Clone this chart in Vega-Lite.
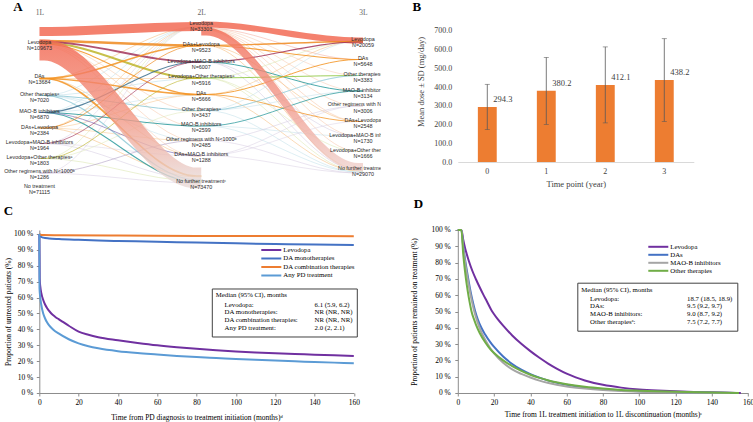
{
"$schema":"https://vega.github.io/schema/vega-lite/v6.json",
"background":"white",
"padding":{"left":-2.7,"top":0,"right":0,"bottom":0},
"autosize":{"type":"pad"},
"bounds":"flush",
"align":"each",
"columns":2,
"spacing":{"row":29,"column":76.5},
"config":{
  "view":{"stroke":null},
  "font":"Liberation Serif",
  "axis":{"labelFont":"Liberation Serif","titleFont":"Liberation Serif","titleFontWeight":"normal","labelColor":"#000","titleColor":"#000","grid":false},
  "axisY":{"labelOverlap":false},
  "title":{"font":"Liberation Serif","fontSize":13,"fontWeight":"bold","anchor":"start","frame":"group","color":"#000"},
  "legend":{"labelFont":"Liberation Serif","titleFont":"Liberation Serif","titleFontWeight":"normal"}
},
"resolve":{"scale":{"color":"independent","shape":"independent","strokeWidth":"independent"},"legend":{"color":"independent","shape":"independent","strokeWidth":"independent"}},
"datasets":{
"links":[
{"id":"a01","s":"a","y0":4.2,"y1":11.0,"n":500,"c":"f_peach"},
{"id":"a02","s":"a","y0":4.3,"y1":12.55,"n":500,"c":"f_peach"},
{"id":"a03","s":"a","y0":4.4,"y1":14.0,"n":500,"c":"f_peach"},
{"id":"a04","s":"a","y0":4.5,"y1":15.5,"n":400,"c":"f_peach"},
{"id":"a05","s":"a","y0":7.75,"y1":2.6,"n":800,"c":"f_orange"},
{"id":"a06","s":"a","y0":7.75,"y1":15.5,"n":500,"c":"f_orange"},
{"id":"a07","s":"a","y0":7.75,"y1":7.75,"n":400,"c":"f_orange"},
{"id":"a08","s":"a","y0":9.45,"y1":2.6,"n":600,"c":"f_blue"},
{"id":"a09","s":"a","y0":9.45,"y1":7.75,"n":800,"c":"f_blue"},
{"id":"a10","s":"a","y0":9.45,"y1":12.55,"n":400,"c":"f_blue"},
{"id":"a11","s":"a","y0":9.45,"y1":14.0,"n":400,"c":"f_blue"},
{"id":"a12","s":"a","y0":11.15,"y1":2.6,"n":500,"c":"f_blue"},
{"id":"a13","s":"a","y0":11.15,"y1":9.4,"n":400,"c":"f_blue"},
{"id":"a14","s":"a","y0":12.7,"y1":2.6,"n":500,"c":"f_orange"},
{"id":"a15","s":"a","y0":12.7,"y1":9.4,"n":400,"c":"f_orange"},
{"id":"a16","s":"a","y0":12.7,"y1":17.6,"n":800,"c":"f_orange"},
{"id":"a17","s":"a","y0":14.25,"y1":2.6,"n":400,"c":"f_lav"},
{"id":"a18","s":"a","y0":14.25,"y1":17.8,"n":600,"c":"f_lav"},
{"id":"a19","s":"a","y0":15.75,"y1":2.6,"n":400,"c":"f_green"},
{"id":"a20","s":"a","y0":15.75,"y1":18.0,"n":600,"c":"f_green"},
{"id":"a21","s":"a","y0":17.2,"y1":18.2,"n":500,"c":"f_lav"},
{"id":"a22","s":"a","y0":17.2,"y1":2.6,"n":300,"c":"f_lav"},
{"id":"a23","s":"a","y0":14.25,"y1":15.5,"n":300,"c":"f_lav"},
{"id":"a24","s":"a","y0":15.75,"y1":11.0,"n":300,"c":"f_green"},
{"id":"a25","s":"a","y0":12.7,"y1":14.0,"n":300,"c":"f_orange"},
{"id":"a31","s":"a","y0":3.05,"y1":2.55,"n":25500,"c":"lev"},
{"id":"a32","s":"a","y0":4.0,"y1":4.45,"n":6000,"c":"daslev"},
{"id":"a33","s":"a","y0":4.1,"y1":6.1,"n":4500,"c":"levmaob"},
{"id":"a34","s":"a","y0":4.2,"y1":7.7,"n":5000,"c":"levoth"},
{"id":"a35","s":"a","y0":4.3,"y1":9.35,"n":1800,"c":"das"},
{"id":"a36","s":"a","y0":7.75,"y1":4.45,"n":3000,"c":"das"},
{"id":"a37","s":"a","y0":7.75,"y1":9.35,"n":3000,"c":"das"},
{"id":"a38","s":"a","y0":7.75,"y1":17.5,"n":3500,"c":"das"},
{"id":"a39","s":"a","y0":9.45,"y1":10.95,"n":1500,"c":"oth"},
{"id":"a40","s":"a","y0":9.45,"y1":17.9,"n":2000,"c":"oth"},
{"id":"a41","s":"a","y0":11.15,"y1":6.1,"n":1800,"c":"maob_dark"},
{"id":"a42","s":"a","y0":11.15,"y1":12.5,"n":1800,"c":"maob"},
{"id":"a43","s":"a","y0":11.15,"y1":18.1,"n":1800,"c":"maob"},
{"id":"a44","s":"a","y0":11.15,"y1":15.45,"n":800,"c":"dasmaob"},
{"id":"a45","s":"a","y0":12.7,"y1":4.45,"n":900,"c":"daslev"},
{"id":"a46","s":"a","y0":14.25,"y1":6.1,"n":700,"c":"levmaob"},
{"id":"a47","s":"a","y0":15.75,"y1":7.7,"n":700,"c":"levoth"},
{"id":"a48","s":"a","y0":17.2,"y1":13.95,"n":600,"c":"othreg"},
{"id":"a30","s":"a","y0":4.9,"y1":17.7,"n":61000,"c":"lev_exit"},
{"id":"b01","s":"b","y0":2.7,"y1":5.85,"n":500,"c":"f_red"},
{"id":"b02","s":"b","y0":2.7,"y1":7.45,"n":400,"c":"f_peach"},
{"id":"b03","s":"b","y0":2.75,"y1":9.0,"n":400,"c":"f_peach"},
{"id":"b04","s":"b","y0":2.8,"y1":10.5,"n":600,"c":"f_peach"},
{"id":"b05","s":"b","y0":2.8,"y1":12.05,"n":700,"c":"f_peach"},
{"id":"b06","s":"b","y0":2.85,"y1":13.55,"n":600,"c":"f_peach"},
{"id":"b07","s":"b","y0":2.9,"y1":15.05,"n":600,"c":"f_peach"},
{"id":"b08","s":"b","y0":4.45,"y1":12.05,"n":700,"c":"f_orange"},
{"id":"b09","s":"b","y0":4.45,"y1":16.8,"n":800,"c":"f_orange"},
{"id":"b10","s":"b","y0":6.1,"y1":13.55,"n":600,"c":"f_lav"},
{"id":"b11","s":"b","y0":6.1,"y1":16.9,"n":700,"c":"f_lav"},
{"id":"b12","s":"b","y0":7.7,"y1":15.05,"n":500,"c":"f_green"},
{"id":"b13","s":"b","y0":7.7,"y1":4.0,"n":700,"c":"f_green"},
{"id":"b14","s":"b","y0":7.7,"y1":17.0,"n":500,"c":"f_green"},
{"id":"b15","s":"b","y0":9.35,"y1":4.0,"n":500,"c":"f_orange"},
{"id":"b16","s":"b","y0":9.35,"y1":17.0,"n":700,"c":"f_orange"},
{"id":"b17","s":"b","y0":10.95,"y1":7.45,"n":700,"c":"f_blue"},
{"id":"b18","s":"b","y0":10.95,"y1":17.1,"n":600,"c":"f_blue"},
{"id":"b19","s":"b","y0":10.95,"y1":4.0,"n":400,"c":"f_blue"},
{"id":"b20","s":"b","y0":12.5,"y1":17.1,"n":500,"c":"f_blue"},
{"id":"b21","s":"b","y0":12.5,"y1":13.55,"n":400,"c":"f_blue"},
{"id":"b22","s":"b","y0":13.95,"y1":10.5,"n":600,"c":"f_lav"},
{"id":"b23","s":"b","y0":13.95,"y1":17.2,"n":500,"c":"f_lav"},
{"id":"b24","s":"b","y0":15.45,"y1":10.5,"n":400,"c":"f_lav"},
{"id":"b25","s":"b","y0":15.45,"y1":17.2,"n":400,"c":"f_lav"},
{"id":"b26","s":"b","y0":15.45,"y1":12.05,"n":300,"c":"f_lav"},
{"id":"b27","s":"b","y0":10.95,"y1":9.0,"n":400,"c":"f_blue"},
{"id":"b31","s":"b","y0":2.35,"y1":3.95,"n":16000,"c":"lev"},
{"id":"b32","s":"b","y0":4.45,"y1":4.05,"n":2500,"c":"daslev"},
{"id":"b33","s":"b","y0":4.45,"y1":5.85,"n":2000,"c":"das"},
{"id":"b34","s":"b","y0":6.1,"y1":4.1,"n":2000,"c":"levmaob"},
{"id":"b35","s":"b","y0":6.1,"y1":9.0,"n":1500,"c":"maob"},
{"id":"b36","s":"b","y0":7.7,"y1":7.45,"n":1500,"c":"oth_green"},
{"id":"b37","s":"b","y0":9.35,"y1":5.85,"n":1500,"c":"das"},
{"id":"b38","s":"b","y0":9.35,"y1":12.05,"n":1200,"c":"das"},
{"id":"b39","s":"b","y0":12.5,"y1":9.0,"n":1200,"c":"maob"},
{"id":"b40","s":"b","y0":10.95,"y1":7.45,"n":800,"c":"oth"},
{"id":"b30","s":"b","y0":3.05,"y1":16.6,"n":22000,"c":"lev_exit"}
],
"nodes":[
{"x":1,"pos":4.4,"name":"Levodopa","nl":"N=109673"},
{"x":1,"pos":7.8,"name":"DAs","nl":"N=13684"},
{"x":1,"pos":9.6,"name":"Other therapiesᵃ","nl":"N=7020"},
{"x":1,"pos":11.25,"name":"MAO-B inhibitors","nl":"N=6870"},
{"x":1,"pos":12.85,"name":"DAs+Levodopa","nl":"N=2384"},
{"x":1,"pos":14.35,"name":"Levodopa+MAO-B inhibitors","nl":"N=1964"},
{"x":1,"pos":15.85,"name":"Levodopa+Other therapiesᵃ","nl":"N=1803"},
{"x":1,"pos":17.3,"name":"Other regimens with N<1000ᵇ","nl":"N=1286"},
{"x":1,"pos":18.75,"name":"No treatment","nl":"N=71115"},
{"x":2,"pos":2.47,"name":"Levodopa","nl":"N=33303"},
{"x":2,"pos":4.57,"name":"DAs+Levodopa","nl":"N=9523"},
{"x":2,"pos":6.25,"name":"Levodopa+MAO-B inhibitors","nl":"N=6007"},
{"x":2,"pos":7.83,"name":"Levodopa+Other therapiesᵃ","nl":"N=5916"},
{"x":2,"pos":9.5,"name":"DAs","nl":"N=5666"},
{"x":2,"pos":11.07,"name":"Other therapiesᵃ","nl":"N=3437"},
{"x":2,"pos":12.6,"name":"MAO-B inhibitors","nl":"N=2599"},
{"x":2,"pos":14.07,"name":"Other regimens with N<1000ᵇ","nl":"N=2485"},
{"x":2,"pos":15.58,"name":"DAs+MAO-B inhibitors","nl":"N=1288"},
{"x":2,"pos":18.25,"name":"No further treatmentᶜ","nl":"N=73470"},
{"x":3,"pos":4.12,"name":"Levodopa","nl":"N=20059"},
{"x":3,"pos":5.97,"name":"DAs","nl":"N=5648"},
{"x":3,"pos":7.6,"name":"Other therapiesᵃ","nl":"N=3383"},
{"x":3,"pos":9.15,"name":"MAO-B inhibitors","nl":"N=3134"},
{"x":3,"pos":10.63,"name":"Other regimens with N<1000ᵇ","nl":"N=3006"},
{"x":3,"pos":12.18,"name":"DAs+Levodopa","nl":"N=2548"},
{"x":3,"pos":13.67,"name":"Levodopa+MAO-B inhibitors","nl":"N=1730"},
{"x":3,"pos":15.17,"name":"Levodopa+Other therapiesᵃ","nl":"N=1666"},
{"x":3,"pos":17.02,"name":"No further treatmentᶜ","nl":"N=29070"}
],
"curvesC":[
{"s":"Levodopa","t":0,"v":100},{"s":"Levodopa","t":0.2,"v":72},{"s":"Levodopa","t":0.5,"v":67},{"s":"Levodopa","t":1,"v":63},{"s":"Levodopa","t":2,"v":58.5},{"s":"Levodopa","t":3,"v":55.5},{"s":"Levodopa","t":4,"v":53.3},{"s":"Levodopa","t":5,"v":51.6},{"s":"Levodopa","t":6.1,"v":50},{"s":"Levodopa","t":8,"v":48},{"s":"Levodopa","t":10,"v":46.3},{"s":"Levodopa","t":12,"v":44.7},{"s":"Levodopa","t":15,"v":42.3},{"s":"Levodopa","t":20,"v":38.6},{"s":"Levodopa","t":25,"v":36.6},{"s":"Levodopa","t":30,"v":35.1},{"s":"Levodopa","t":40,"v":33.2},{"s":"Levodopa","t":50,"v":31.5},{"s":"Levodopa","t":60,"v":30},{"s":"Levodopa","t":70,"v":28.8},{"s":"Levodopa","t":80,"v":27.8},{"s":"Levodopa","t":90,"v":26.9},{"s":"Levodopa","t":100,"v":26.1},{"s":"Levodopa","t":110,"v":25.5},{"s":"Levodopa","t":120,"v":25},{"s":"Levodopa","t":130,"v":24.5},{"s":"Levodopa","t":140,"v":24.1},{"s":"Levodopa","t":150,"v":23.7},{"s":"Levodopa","t":160,"v":23.3},
{"s":"DA monotherapies","t":0,"v":100},{"s":"DA monotherapies","t":0.5,"v":98.6},{"s":"DA monotherapies","t":1,"v":98.1},{"s":"DA monotherapies","t":2,"v":97.7},{"s":"DA monotherapies","t":5,"v":97.2},{"s":"DA monotherapies","t":10,"v":96.8},{"s":"DA monotherapies","t":20,"v":96.3},{"s":"DA monotherapies","t":30,"v":95.9},{"s":"DA monotherapies","t":40,"v":95.6},{"s":"DA monotherapies","t":60,"v":95.1},{"s":"DA monotherapies","t":80,"v":94.6},{"s":"DA monotherapies","t":100,"v":94.1},{"s":"DA monotherapies","t":120,"v":93.7},{"s":"DA monotherapies","t":140,"v":93.4},{"s":"DA monotherapies","t":160,"v":93.1},
{"s":"DA combination therapies","t":0,"v":100},{"s":"DA combination therapies","t":0.5,"v":99.5},{"s":"DA combination therapies","t":2,"v":99.3},{"s":"DA combination therapies","t":10,"v":99.2},{"s":"DA combination therapies","t":40,"v":99},{"s":"DA combination therapies","t":80,"v":98.8},{"s":"DA combination therapies","t":120,"v":98.7},{"s":"DA combination therapies","t":160,"v":98.6},
{"s":"Any PD treatment","t":0,"v":100},{"s":"Any PD treatment","t":0.1,"v":66},{"s":"Any PD treatment","t":0.5,"v":60},{"s":"Any PD treatment","t":1,"v":55.5},{"s":"Any PD treatment","t":2,"v":50},{"s":"Any PD treatment","t":3,"v":46.7},{"s":"Any PD treatment","t":4,"v":44.3},{"s":"Any PD treatment","t":5,"v":42.5},{"s":"Any PD treatment","t":7,"v":40},{"s":"Any PD treatment","t":10,"v":37.3},{"s":"Any PD treatment","t":15,"v":33.8},{"s":"Any PD treatment","t":20,"v":31.2},{"s":"Any PD treatment","t":25,"v":29.4},{"s":"Any PD treatment","t":30,"v":28.1},{"s":"Any PD treatment","t":40,"v":26.3},{"s":"Any PD treatment","t":50,"v":25.1},{"s":"Any PD treatment","t":60,"v":24.2},{"s":"Any PD treatment","t":70,"v":23.3},{"s":"Any PD treatment","t":80,"v":22.6},{"s":"Any PD treatment","t":90,"v":22},{"s":"Any PD treatment","t":100,"v":21.4},{"s":"Any PD treatment","t":110,"v":20.9},{"s":"Any PD treatment","t":120,"v":20.4},{"s":"Any PD treatment","t":130,"v":19.9},{"s":"Any PD treatment","t":140,"v":19.5},{"s":"Any PD treatment","t":150,"v":19.1},{"s":"Any PD treatment","t":160,"v":18.7}
],
"curvesD":[
{"s":"Levodopa","t":0,"v":100},{"s":"Levodopa","t":2,"v":100},{"s":"Levodopa","t":3,"v":94},{"s":"Levodopa","t":4,"v":89},{"s":"Levodopa","t":5,"v":85},{"s":"Levodopa","t":6,"v":81.3},{"s":"Levodopa","t":8,"v":75},{"s":"Levodopa","t":10,"v":69.8},{"s":"Levodopa","t":12,"v":65},{"s":"Levodopa","t":14,"v":60.5},{"s":"Levodopa","t":16,"v":56.3},{"s":"Levodopa","t":18.7,"v":50.5},{"s":"Levodopa","t":20,"v":48.3},{"s":"Levodopa","t":22,"v":45.3},{"s":"Levodopa","t":25,"v":41.3},{"s":"Levodopa","t":30,"v":35.3},{"s":"Levodopa","t":35,"v":30.2},{"s":"Levodopa","t":40,"v":25.7},{"s":"Levodopa","t":45,"v":21.6},{"s":"Levodopa","t":50,"v":17.9},{"s":"Levodopa","t":55,"v":14.7},{"s":"Levodopa","t":60,"v":11.9},{"s":"Levodopa","t":65,"v":9.6},{"s":"Levodopa","t":70,"v":7.7},{"s":"Levodopa","t":80,"v":5},{"s":"Levodopa","t":90,"v":3.3},{"s":"Levodopa","t":100,"v":2.2},{"s":"Levodopa","t":110,"v":1.5},{"s":"Levodopa","t":120,"v":1},{"s":"Levodopa","t":130,"v":0.65},{"s":"Levodopa","t":140,"v":0.4},{"s":"Levodopa","t":150,"v":0.15},{"s":"Levodopa","t":156,"v":0},
{"s":"DAs","t":0,"v":100},{"s":"DAs","t":2,"v":100},{"s":"DAs","t":3,"v":90},{"s":"DAs","t":4,"v":82},{"s":"DAs","t":5,"v":75},{"s":"DAs","t":6,"v":68.5},{"s":"DAs","t":7,"v":62.5},{"s":"DAs","t":8,"v":57.2},{"s":"DAs","t":9.5,"v":50.5},{"s":"DAs","t":11,"v":45.2},{"s":"DAs","t":13,"v":40},{"s":"DAs","t":15,"v":36},{"s":"DAs","t":18,"v":31},{"s":"DAs","t":20,"v":28.3},{"s":"DAs","t":25,"v":22.4},{"s":"DAs","t":30,"v":17.8},{"s":"DAs","t":35,"v":14.3},{"s":"DAs","t":40,"v":11.6},{"s":"DAs","t":45,"v":9.4},{"s":"DAs","t":50,"v":7.6},{"s":"DAs","t":60,"v":5},{"s":"DAs","t":70,"v":3.4},{"s":"DAs","t":80,"v":2.3},{"s":"DAs","t":90,"v":1.6},{"s":"DAs","t":100,"v":1.1},{"s":"DAs","t":120,"v":0.5},{"s":"DAs","t":140,"v":0.2},{"s":"DAs","t":155,"v":0},
{"s":"MAO-B inhibitors","t":0,"v":100},{"s":"MAO-B inhibitors","t":2,"v":100},{"s":"MAO-B inhibitors","t":3,"v":89},{"s":"MAO-B inhibitors","t":4,"v":80.5},{"s":"MAO-B inhibitors","t":5,"v":73},{"s":"MAO-B inhibitors","t":6,"v":66.5},{"s":"MAO-B inhibitors","t":7,"v":60.5},{"s":"MAO-B inhibitors","t":8,"v":55.2},{"s":"MAO-B inhibitors","t":9,"v":50.5},{"s":"MAO-B inhibitors","t":10,"v":46.5},{"s":"MAO-B inhibitors","t":12,"v":40},{"s":"MAO-B inhibitors","t":15,"v":32.8},{"s":"MAO-B inhibitors","t":18,"v":27.3},{"s":"MAO-B inhibitors","t":20,"v":24.3},{"s":"MAO-B inhibitors","t":25,"v":18.6},{"s":"MAO-B inhibitors","t":30,"v":14.5},{"s":"MAO-B inhibitors","t":35,"v":11.7},{"s":"MAO-B inhibitors","t":40,"v":9.5},{"s":"MAO-B inhibitors","t":45,"v":7.6},{"s":"MAO-B inhibitors","t":50,"v":6.1},{"s":"MAO-B inhibitors","t":60,"v":4},{"s":"MAO-B inhibitors","t":70,"v":2.7},{"s":"MAO-B inhibitors","t":80,"v":1.8},{"s":"MAO-B inhibitors","t":90,"v":1.2},{"s":"MAO-B inhibitors","t":100,"v":0.8},{"s":"MAO-B inhibitors","t":120,"v":0.35},{"s":"MAO-B inhibitors","t":140,"v":0.1},{"s":"MAO-B inhibitors","t":150,"v":0},
{"s":"Other therapies","t":0,"v":100},{"s":"Other therapies","t":2,"v":100},{"s":"Other therapies","t":3,"v":85},{"s":"Other therapies","t":4,"v":74.5},{"s":"Other therapies","t":5,"v":66},{"s":"Other therapies","t":6,"v":59},{"s":"Other therapies","t":7,"v":53},{"s":"Other therapies","t":7.5,"v":50.3},{"s":"Other therapies","t":9,"v":45},{"s":"Other therapies","t":10,"v":42},{"s":"Other therapies","t":12,"v":37},{"s":"Other therapies","t":15,"v":31.3},{"s":"Other therapies","t":18,"v":26.8},{"s":"Other therapies","t":20,"v":24.5},{"s":"Other therapies","t":25,"v":20},{"s":"Other therapies","t":30,"v":16.5},{"s":"Other therapies","t":35,"v":13.6},{"s":"Other therapies","t":40,"v":11.2},{"s":"Other therapies","t":45,"v":9.3},{"s":"Other therapies","t":50,"v":7.7},{"s":"Other therapies","t":60,"v":5.4},{"s":"Other therapies","t":70,"v":3.8},{"s":"Other therapies","t":80,"v":2.7},{"s":"Other therapies","t":90,"v":1.9},{"s":"Other therapies","t":100,"v":1.4},{"s":"Other therapies","t":120,"v":0.7},{"s":"Other therapies","t":140,"v":0.3},{"s":"Other therapies","t":155,"v":0}
]
},
"concat":[
 {
  "width":341.5,"height":200,
  "title":{"text":"A","dx":-26,"offset":-12.5},
  "encoding":{
   "x":{"field":"x","type":"quantitative","scale":{"domain":[0.999,3.11],"nice":false,"zero":false},
        "axis":{"orient":"top","values":[1,2,3],"labelExpr":"datum.value + 'L'","domain":false,"ticks":false,"grid":false,"title":null,"offset":-15,"labelPadding":0,"labelFlush":false,"labelOverlap":false,"labelFontSize":7.5,"labelColor":"#666666"}},
   "y":{"field":"pos","type":"quantitative","scale":{"domain":[0,20],"reverse":true,"nice":false,"zero":false},"axis":null}
  },
  "layer":[
   {"data":{"name":"links"},
    "transform":[
     {"filter":"datum.s == 'a' && datum.c != 'lev_exit'"},
     {"fold":["y0","y0","y1","y1"],"as":["end","pos"]},
     {"window":[{"op":"row_number","as":"idx"}],"groupby":["id"]},
     {"lookup":"idx","from":{"data":{"values":[{"idx":1,"x":1},{"idx":2,"x":1.03},{"idx":3,"x":1.97},{"idx":4,"x":2}]},"key":"idx","fields":["x"]}}
    ],
    "mark":{"type":"line","interpolate":"monotone","strokeCap":"butt","opacity":0.85},
    "encoding":{
     "detail":{"field":"id","type":"nominal"},
     "color":{"field":"c","type":"nominal","legend":null,"scale":{"domain":["lev","das","daslev","levmaob","levoth","oth_green","oth","maob","maob_dark","othreg","dasmaob","f_peach","f_orange","f_blue","f_green","f_lav","f_red"],"range":["#F26B55","#F39322","#EE8A1F","#A1345A","#BDB52A","#8CC63F","#8FC9D6","#2B9A9C","#3B6F8E","#AF9FC4","#7A68B0","#F8CBB0","#F7C58C","#C5E2EB","#DDE8B5","#D9D0E4","#F5ADA0"]}},
     "strokeWidth":{"field":"n","type":"quantitative","legend":null,"scale":{"domain":[0,60000],"range":[0.5,20.5]}}
    }},
   {"data":{"name":"links"},
    "transform":[
     {"filter":"datum.s == 'b' && datum.c != 'lev_exit'"},
     {"fold":["y0","y0","y1","y1"],"as":["end","pos"]},
     {"window":[{"op":"row_number","as":"idx"}],"groupby":["id"]},
     {"lookup":"idx","from":{"data":{"values":[{"idx":1,"x":2},{"idx":2,"x":2.03},{"idx":3,"x":2.97},{"idx":4,"x":3}]},"key":"idx","fields":["x"]}}
    ],
    "mark":{"type":"line","interpolate":"monotone","strokeCap":"butt","opacity":0.85},
    "encoding":{
     "detail":{"field":"id","type":"nominal"},
     "color":{"field":"c","type":"nominal","legend":null},
     "strokeWidth":{"field":"n","type":"quantitative","legend":null}
    }},
   {"data":{"name":"links"},
    "transform":[
     {"filter":"datum.s == 'a' && datum.c == 'lev_exit'"},
     {"fold":["y0","y0","y1","y1"],"as":["end","pos"]},
     {"window":[{"op":"row_number","as":"idx"}],"groupby":["id"]},
     {"lookup":"idx","from":{"data":{"values":[{"idx":1,"x":1},{"idx":2,"x":1.03},{"idx":3,"x":1.97},{"idx":4,"x":2}]},"key":"idx","fields":["x"]}}
    ],
    "mark":{"type":"line","interpolate":"monotone","strokeCap":"butt","opacity":0.8,
      "color":{"gradient":"linear","x1":0,"y1":0,"x2":0,"y2":1,"stops":[{"offset":0,"color":"#F26B55"},{"offset":0.55,"color":"#F29A88"},{"offset":1,"color":"#E9D9D6"}]}},
    "encoding":{
     "detail":{"field":"id","type":"nominal"},
     "strokeWidth":{"field":"n","type":"quantitative","legend":null}
    }},
   {"data":{"name":"links"},
    "transform":[
     {"filter":"datum.s == 'b' && datum.c == 'lev_exit'"},
     {"fold":["y0","y0","y1","y1"],"as":["end","pos"]},
     {"window":[{"op":"row_number","as":"idx"}],"groupby":["id"]},
     {"lookup":"idx","from":{"data":{"values":[{"idx":1,"x":2},{"idx":2,"x":2.03},{"idx":3,"x":2.97},{"idx":4,"x":3}]},"key":"idx","fields":["x"]}}
    ],
    "mark":{"type":"line","interpolate":"monotone","strokeCap":"butt","opacity":0.8,
      "color":{"gradient":"linear","x1":0,"y1":0,"x2":0,"y2":1,"stops":[{"offset":0,"color":"#F26B55"},{"offset":0.6,"color":"#F1A093"},{"offset":1,"color":"#EFD0CB"}]}},
    "encoding":{
     "detail":{"field":"id","type":"nominal"},
     "strokeWidth":{"field":"n","type":"quantitative","legend":null}
    }},
   {"data":{"name":"nodes"},"transform":[{"filter":"datum.x < 3"}],
    "mark":{"type":"text","font":"Liberation Sans","fontSize":5.4,"color":"#2b2b2b","dy":-3},
    "encoding":{"text":{"field":"name","type":"nominal"}}},
   {"data":{"name":"nodes"},"transform":[{"filter":"datum.x < 3"}],
    "mark":{"type":"text","font":"Liberation Sans","fontSize":5.4,"color":"#2b2b2b","dy":3.2},
    "encoding":{"text":{"field":"nl","type":"nominal"}}},
   {"data":{"name":"nodes"},"transform":[{"filter":"datum.x == 3"}],
    "mark":{"type":"text","font":"Liberation Sans","fontSize":5.4,"color":"#2b2b2b","dy":-3,"clip":true},
    "encoding":{"text":{"field":"name","type":"nominal"}}},
   {"data":{"name":"nodes"},"transform":[{"filter":"datum.x == 3"}],
    "mark":{"type":"text","font":"Liberation Sans","fontSize":5.4,"color":"#2b2b2b","dy":3.2,"clip":true},
    "encoding":{"text":{"field":"nl","type":"nominal"}}}
  ]
 },
 {
  "width":236,"height":161,
  "title":{"text":"B","dx":-45.3,"offset":-12.5},
  "data":{"values":[{"year":"0","mean":294.3,"lo":173,"hi":415},{"year":"1","mean":380.2,"lo":201,"hi":559},{"year":"2","mean":412.1,"lo":209,"hi":615},{"year":"3","mean":438.2,"lo":217,"hi":659}]},
  "encoding":{"x":{"field":"year","type":"ordinal","scale":{"paddingInner":0.68,"paddingOuter":0.34},
     "axis":{"labelAngle":0,"domainColor":"#D9D9D9","ticks":false,"labelPadding":5,"labelFontSize":8,"labelColor":"#404040","title":"Time point (year)","titleFontSize":8.5,"titleColor":"#404040","titlePadding":4.5}}},
  "layer":[
   {"mark":{"type":"bar","color":"#ED7D31"},
    "encoding":{"y":{"field":"mean","type":"quantitative","title":"Mean dose ± SD (mg/day)","scale":{"domain":[0,860.3],"nice":false},
      "axis":{"values":[0,100,200,300,400,500,600,700],"format":".1f","domain":false,"ticks":false,"labelOverlap":false,"labelPadding":6,"labelFontSize":8,"labelColor":"#404040","titleFontSize":8.5,"titleColor":"#404040","titlePadding":8}}}},
   {"mark":{"type":"rule","color":"#595959","strokeWidth":0.8},
    "encoding":{"y":{"field":"lo","type":"quantitative","title":"Mean dose ± SD (mg/day)",
      "axis":{"values":[0,100,200,300,400,500,600,700],"format":".1f","domain":false,"ticks":false,"labelOverlap":false,"labelPadding":6,"labelFontSize":8,"labelColor":"#404040","titleFontSize":8.5,"titleColor":"#404040","titlePadding":8}},"y2":{"field":"hi"}}},
   {"mark":{"type":"tick","color":"#595959","thickness":0.8,"size":5},
    "encoding":{"y":{"field":"lo","type":"quantitative","title":"Mean dose ± SD (mg/day)",
      "axis":{"values":[0,100,200,300,400,500,600,700],"format":".1f","domain":false,"ticks":false,"labelOverlap":false,"labelPadding":6,"labelFontSize":8,"labelColor":"#404040","titleFontSize":8.5,"titleColor":"#404040","titlePadding":8}}}},
   {"mark":{"type":"tick","color":"#595959","thickness":0.8,"size":5},
    "encoding":{"y":{"field":"hi","type":"quantitative","title":"Mean dose ± SD (mg/day)",
      "axis":{"values":[0,100,200,300,400,500,600,700],"format":".1f","domain":false,"ticks":false,"labelOverlap":false,"labelPadding":6,"labelFontSize":8,"labelColor":"#404040","titleFontSize":8.5,"titleColor":"#404040","titlePadding":8}}}},
   {"mark":{"type":"text","align":"left","dx":6,"dy":-8,"fontSize":8.5,"color":"#404040","font":"Liberation Serif"},
    "encoding":{"y":{"field":"mean","type":"quantitative","title":"Mean dose ± SD (mg/day)",
      "axis":{"values":[0,100,200,300,400,500,600,700],"format":".1f","domain":false,"ticks":false,"labelOverlap":false,"labelPadding":6,"labelFontSize":8,"labelColor":"#404040","titleFontSize":8.5,"titleColor":"#404040","titlePadding":8}},"text":{"field":"mean","type":"quantitative","format":".1f"}}}
  ]
 },
 {
  "width":314.5,"height":163,
  "title":{"text":"C","dx":-35.5,"offset":12},
  "layer":[
   {"data":{"name":"curvesC"},
    "mark":{"type":"line","interpolate":"monotone","strokeWidth":2},
    "encoding":{
     "x":{"field":"t","type":"quantitative","scale":{"domain":[0,160],"nice":false},
       "axis":{"values":[0,20,40,60,80,100,120,140,160],"domainColor":"#8C8C8C","tickColor":"#8C8C8C","tickSize":3,"labelPadding":2.5,"labelFontSize":7.5,"labelFlush":false,"title":"Time from PD diagnosis to treatment initiation (months)ᵈ","titleFontSize":7.5,"titlePadding":8}},
     "y":{"field":"v","type":"quantitative","scale":{"domain":[0,102.5],"nice":false},
       "axis":{"values":[0,10,20,30,40,50,60,70,80,90,100],"labelExpr":"datum.value + ' %'","domainColor":"#8C8C8C","tickColor":"#8C8C8C","tickSize":3,"labelPadding":3.5,"labelFontSize":7.5,"title":"Proportion of untreated patients (%)","titleFontSize":7.5,"titlePadding":0.5}},
     "color":{"field":"s","type":"nominal","scale":{"domain":["Levodopa","DA monotherapies","DA combination therapies","Any PD treatment"],"range":["#7030A0","#4472C4","#ED7D31","#5B9BD5"]},
       "legend":{"orient":"none","legendX":228.5,"legendY":16.5,"title":null,"symbolType":"M-4,0L4,0","symbolSize":25,"symbolStrokeWidth":2,"labelFontSize":6.8,"labelOffset":8.5,"rowPadding":-0.5,"padding":0}}
    }},
   {"data":{"values":[{"k":"c1"},{"k":"c2"},{"k":"c3"},{"k":"c4"},{"k":"c5"},{"k":"c6"},{"k":"c7"},{"k":"c8"}]},
    "mark":{"type":"point","opacity":0},
    "encoding":{"shape":{"field":"k","type":"nominal","scale":{"domain":["c1","c3","c5","c7","c2","c4","c6","c8"]},
      "legend":{"orient":"none","legendX":172.5,"legendY":58.5,"title":"Median (95% CI), months","titleFontSize":6.8,"titlePadding":1.5,"labelFontSize":6.8,"columns":2,"columnPadding":7,"rowPadding":-1,"padding":4,"strokeColor":"#404040","fillColor":"white","symbolSize":0.01,"symbolOpacity":0,"symbolStrokeWidth":0,"labelOffset":2,
        "labelExpr":"datum.value == 'c1' ? 'Levodopa:' : datum.value == 'c2' ? '6.1 (5.9, 6.2)' : datum.value == 'c3' ? 'DA monotherapies:' : datum.value == 'c4' ? 'NR (NR, NR)' : datum.value == 'c5' ? 'DA combination therapies:' : datum.value == 'c6' ? 'NR (NR, NR)' : datum.value == 'c7' ? 'Any PD treatment:' : '2.0 (2, 2.1)'"}}}}
  ]
 },
 {
  "width":290.3,"height":163,
  "title":{"text":"D","dx":-44,"offset":15},
  "layer":[
   {"data":{"name":"curvesD"},
    "mark":{"type":"line","interpolate":"monotone","strokeWidth":2},
    "encoding":{
     "x":{"field":"t","type":"quantitative","scale":{"domain":[0,160],"nice":false},
       "axis":{"values":[0,20,40,60,80,100,120,140,160],"domainColor":"#8C8C8C","tickColor":"#8C8C8C","tickSize":3,"labelPadding":2.5,"labelFontSize":7.5,"labelFlush":false,"title":"Time from 1L treatment initiation to 1L discontinuation (months)ᵉ","titleFontSize":7.5,"titlePadding":5}},
     "y":{"field":"v","type":"quantitative","scale":{"domain":[0,100],"nice":false},
       "axis":{"values":[0,10,20,30,40,50,60,70,80,90,100],"labelExpr":"datum.value + ' %'","domainColor":"#8C8C8C","tickColor":"#8C8C8C","tickSize":3,"labelPadding":4.5,"labelFontSize":7.5,"title":"Proportion of patients remained on treatment (%)","titleFontSize":7.5,"titlePadding":12.5}},
     "color":{"field":"s","type":"nominal","scale":{"domain":["Levodopa","DAs","MAO-B inhibitors","Other therapies"],"range":["#7030A0","#4472C4","#A5A5A5","#70AD47"]},
       "legend":{"orient":"none","legendX":197,"legendY":13.3,"title":null,"symbolType":"M-4,0L4,0","symbolSize":25,"symbolStrokeWidth":2,"labelFontSize":6.8,"labelOffset":8.5,"rowPadding":-1.2,"padding":0}}
    }},
   {"data":{"values":[{"k":"d1"},{"k":"d2"},{"k":"d3"},{"k":"d4"},{"k":"d5"},{"k":"d6"},{"k":"d7"},{"k":"d8"}]},
    "mark":{"type":"point","opacity":0},
    "encoding":{"shape":{"field":"k","type":"nominal","scale":{"domain":["d1","d3","d5","d7","d2","d4","d6","d8"]},
      "legend":{"orient":"none","legendX":119.5,"legendY":52.7,"title":"Median (95% CI), months","titleFontSize":6.8,"titlePadding":1.5,"labelFontSize":6.8,"columns":2,"columnPadding":35,"rowPadding":-1.4,"padding":4,"strokeColor":"#404040","fillColor":"white","symbolSize":0.01,"symbolOpacity":0,"symbolStrokeWidth":0,"labelOffset":2,
        "labelExpr":"datum.value == 'd1' ? 'Levodopa:' : datum.value == 'd2' ? '18.7 (18.5, 18.9)' : datum.value == 'd3' ? 'DAs:' : datum.value == 'd4' ? '9.5 (9.2, 9.7)' : datum.value == 'd5' ? 'MAO-B inhibitors:' : datum.value == 'd6' ? '9.0 (8.7, 9.2)' : datum.value == 'd7' ? 'Other therapiesᵃ:' : '7.5 (7.2, 7.7)'"}}}}
  ]
 }
]
}
